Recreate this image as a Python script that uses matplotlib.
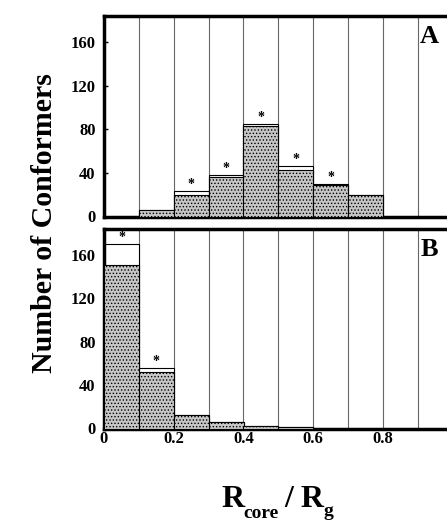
import matplotlib
matplotlib.use("Agg")
import matplotlib.pyplot as plt
import numpy as np

# ---- data ----
bin_left = [0.0, 0.1, 0.2, 0.3, 0.4, 0.5, 0.6, 0.7, 0.8, 0.9]
a_shaded = [0, 6, 20, 36, 83, 43, 29, 20, 0, 0]
a_total = [0, 6, 23, 38, 85, 46, 30, 20, 0, 0]
a_star = [False, False, True, True, True, True, True, False, False, False]
b_shaded = [151, 52, 12, 6, 2, 1, 0, 0, 0, 0]
b_total = [170, 56, 12, 6, 2, 1, 0, 0, 0, 0]
b_star = [True, True, False, False, False, False, False, False, False, False]
yticks = [0, 40, 80, 120, 160]
xticks = [0, 0.2, 0.4, 0.6, 0.8]
xticklabels = ["0", "0.2", "0.4", "0.6", "0.8"]
panel_labels = ["A", "B"]

plt.rcParams['font.family'] = ['Liberation Serif', 'DejaVu Serif']
plt.rcParams['hatch.color'] = '#7a7a7a'
plt.rcParams['hatch.linewidth'] = 0.6

W, H = 447, 523
fig = plt.figure(figsize=(W / 100, H / 100), dpi=100)

def px_axes(left, top, right, bottom):
    return fig.add_axes([left / W, 1 - bottom / H, (right - left) / W, (bottom - top) / H])

axA = px_axes(104, 16, 447, 216.5)
axB = px_axes(104, 229, 447, 428.5)

width = 0.1
xmax = (447 - 104) / 348.75

for ax, shaded, total, star, lab in [(axA, a_shaded, a_total, a_star, panel_labels[0]),
                                     (axB, b_shaded, b_total, b_star, panel_labels[1])]:
    ax.set_xlim(0, xmax)
    ax.set_ylim(0, 184)
    for xv in np.arange(0.1, 0.95, 0.1):
        ax.axvline(xv, color='#666666', lw=0.8, zorder=1)
    ax.bar(bin_left, total, width=width, align='edge', facecolor='white',
           edgecolor='black', linewidth=0.8, zorder=2)
    ax.bar(bin_left, shaded, width=width, align='edge', facecolor='#c6c6c6',
           edgecolor='black', linewidth=0.8, hatch='.....', zorder=3)
    for xl, t, s in zip(bin_left, total, star):
        if s:
            ax.text(xl + width / 2, t, '*', ha='center', va='bottom',
                    fontsize=10, fontweight='bold', zorder=4)
    ax.set_yticks(yticks)
    ax.set_yticklabels([str(v) for v in yticks], fontsize=12, fontweight='bold')
    ax.tick_params(axis='y', direction='in', length=3, width=1, pad=6)
    ax.tick_params(axis='x', direction='in', length=0, pad=2)
    for side in ['left', 'bottom', 'top']:
        ax.spines[side].set_linewidth(2.5)
    ax.spines['right'].set_visible(False)
    ax.text(0.975, 0.955, lab, transform=ax.transAxes,
            ha='right', va='top', fontsize=19, fontweight='bold')

axA.set_xticks([])
axB.set_xticks(xticks)
axB.set_xticklabels(xticklabels, fontsize=12, fontweight='bold')

fig.text(45 / W, 1 - 223 / H, 'Number of Conformers', rotation=90, ha='center',
         va='center', fontsize=21.5, fontweight='bold')

def ftext(x, y, s, size):
    fig.text(x / W, 1 - y / H, s, ha='left', va='baseline', fontsize=size, fontweight='bold')

ftext(221, 507, 'R', 23)
ftext(243, 518, 'core', 14)
ftext(284, 507, '/ R', 23)
ftext(323, 516, 'g', 14)

fig.savefig('out.png', dpi=100)
